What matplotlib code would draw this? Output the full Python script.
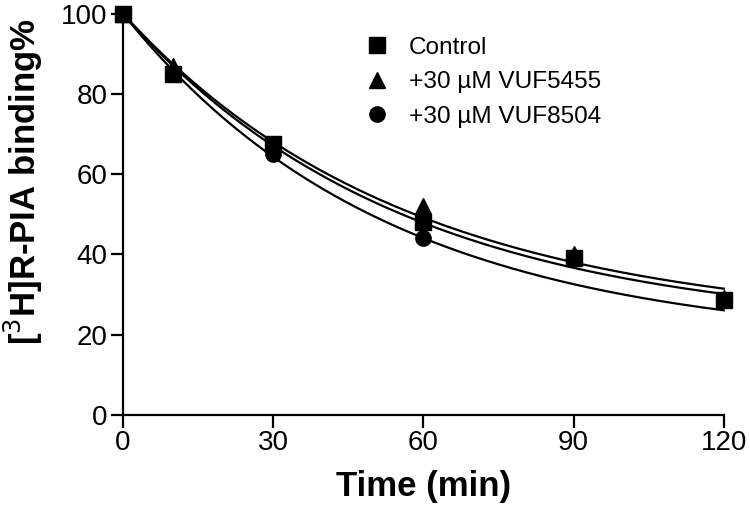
import numpy as np
import matplotlib.pyplot as plt

# data
tiempo = [0, 10, 30, 60, 90, 120]
control = [100, 85, 67.5, 48, 39, 28.5]
vuf5455 = [100, 87, 67.5, 52, 40, 29]
vuf8504 = [100, 85, 65, 44, 39, 28.5]

# one-phase decay fits: (plateau, k per min)
fit_control = (21.0, 0.0180)
fit_vuf5455 = (22.0, 0.0176)
fit_vuf8504 = (17.5, 0.0189)

etiquetas = ['Control', '+30 \u00b5M VUF5455', '+30 \u00b5M VUF8504']
marcadores = ['s', '^', 'o']

plt.rcParams['font.family'] = ['Liberation Sans', 'DejaVu Sans']

fig = plt.figure(figsize=(7.5, 5.25), dpi=100)
ax = fig.add_axes([0.164, 0.21, 0.801, 0.764])

t = np.linspace(0, 120, 300)
for params in [fit_control, fit_vuf5455, fit_vuf8504]:
    p, k = params
    ax.plot(t, p + (100 - p) * np.exp(-k * t), color='black', lw=1.6, clip_on=False)

series = [control, vuf5455, vuf8504]
# circulos primero, cuadrados encima
for i in [2, 1, 0]:
    ax.plot(tiempo, series[i], ls='none', marker=marcadores[i], color='black',
            markersize=12 if i == 0 else 11, clip_on=False, zorder=3)

handles = [plt.Line2D([], [], ls='none', marker=m, color='black', markersize=11)
           for m in marcadores]
leg = ax.legend(handles, etiquetas, loc='upper left', bbox_to_anchor=(0.362, 0.997),
                frameon=False, fontsize=17.6, handletextpad=0.7, labelspacing=0.5,
                handlelength=1.2)

ax.set_xlim(0, 120)
ax.set_ylim(0, 100)
ax.set_xticks([0, 30, 60, 90, 120])
ax.set_yticks([0, 20, 40, 60, 80, 100])
for s in ['top', 'right']:
    ax.spines[s].set_visible(False)
for s in ['left', 'bottom']:
    ax.spines[s].set_linewidth(1.6)
ax.tick_params(width=1.6, length=9, labelsize=20, pad=2)

ax.set_xlabel('Time (min)', fontsize=25, fontweight='bold', labelpad=10)
ax.set_ylabel('[$^{3}$H]R-PIA binding%', fontsize=25, fontweight='bold')
ax.yaxis.set_label_coords(-0.13, 0.58)

fig.savefig('out.png', dpi=100)
